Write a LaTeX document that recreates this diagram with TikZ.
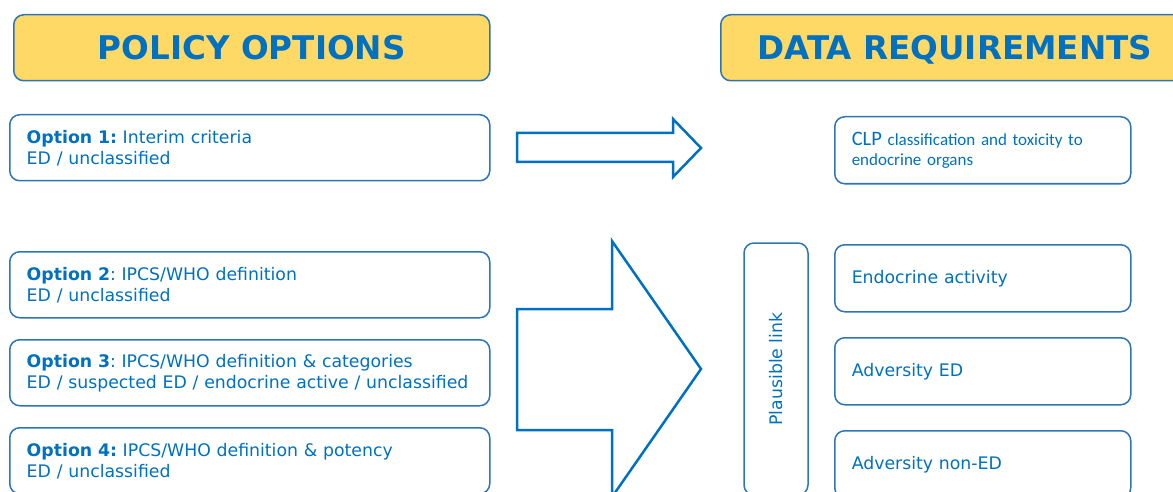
\documentclass[tikz,border=0pt]{standalone}
\usepackage{fontspec}
\setmainfont{DejaVu Sans}
\newfontfamily\clpfont{Carlito}
\definecolor{eblue}{HTML}{0070C0}
\definecolor{eline}{HTML}{2E75B6}
\definecolor{eyellow}{HTML}{FFD966}
\frenchspacing
\begin{document}
\begin{tikzpicture}[x=1pt,y=-1pt,
  box/.style={draw=eline,line width=1.5pt,rounded corners=10pt,text=eblue,
    anchor=north west,inner xsep=17pt,inner ysep=0pt,align=left,
    font=\fontsize{17.3}{21}\selectfont},
  header/.style={box,fill=eyellow,minimum height=66pt,align=center,
    text height=23.8pt,text depth=0pt,
    font=\fontsize{32.6}{38}\selectfont\bfseries},
  option/.style={box,minimum height=66pt,text width=446pt},
  datum/.style={box,minimum height=67pt,text width=262pt},
  bigarrow/.style={draw=eblue,line width=2.5pt,line join=miter}]
  \useasboundingbox (0,0) rectangle (1173,492);
  \clip (0,0) rectangle (1173,492);

  \node [header,minimum width=476pt] (policy) at (13,14) {POLICY OPTIONS};
  \node [header,minimum width=468pt] (data)   at (720,14) {DATA REQUIREMENTS};

  \node [option] (opt1) at (9,114) {\textbf{Option 1:} Interim criteria\\ED / unclassified};
  \node [option] (opt2) at (9,251) {\textbf{Option 2}: IPCS/WHO definition\\ED / unclassified};
  \node [option] (opt3) at (9,339) {\textbf{Option 3}: IPCS/WHO definition \& categories\\ED / suspected ED / endocrine active / unclassified};
  \node [option] (opt4) at (9,427) {\textbf{Option 4:} IPCS/WHO definition \& potency\\ED / unclassified};

  \node [datum,font=\clpfont\fontsize{17}{20.3}\selectfont] (clp) at (834,116)
    {{\fontsize{20.5}{20.3}\selectfont CLP} classification and toxicity to\\endocrine organs};
  \node [datum] (activity)  at (834,244) {Endocrine activity};
  \node [datum] (adverse)   at (834,337) {Adversity ED};
  \node [datum] (nonED)     at (834,430) {Adversity non-ED};

  \node [box,anchor=center,rotate=90,minimum width=252pt,minimum height=64pt,
    inner xsep=0pt,align=center] (link) at (776,369) {Plausible link};

  \draw [bigarrow] (517,133) -- (673,133) -- (673,119) -- (701,148)
    -- (673,177) -- (673,162) -- (517,162) -- cycle;
  \draw [bigarrow] (517,309) -- (612,309) -- (612,241) -- (701,369)
    -- (612,497) -- (612,430) -- (517,430) -- cycle;
\end{tikzpicture}
\end{document}
